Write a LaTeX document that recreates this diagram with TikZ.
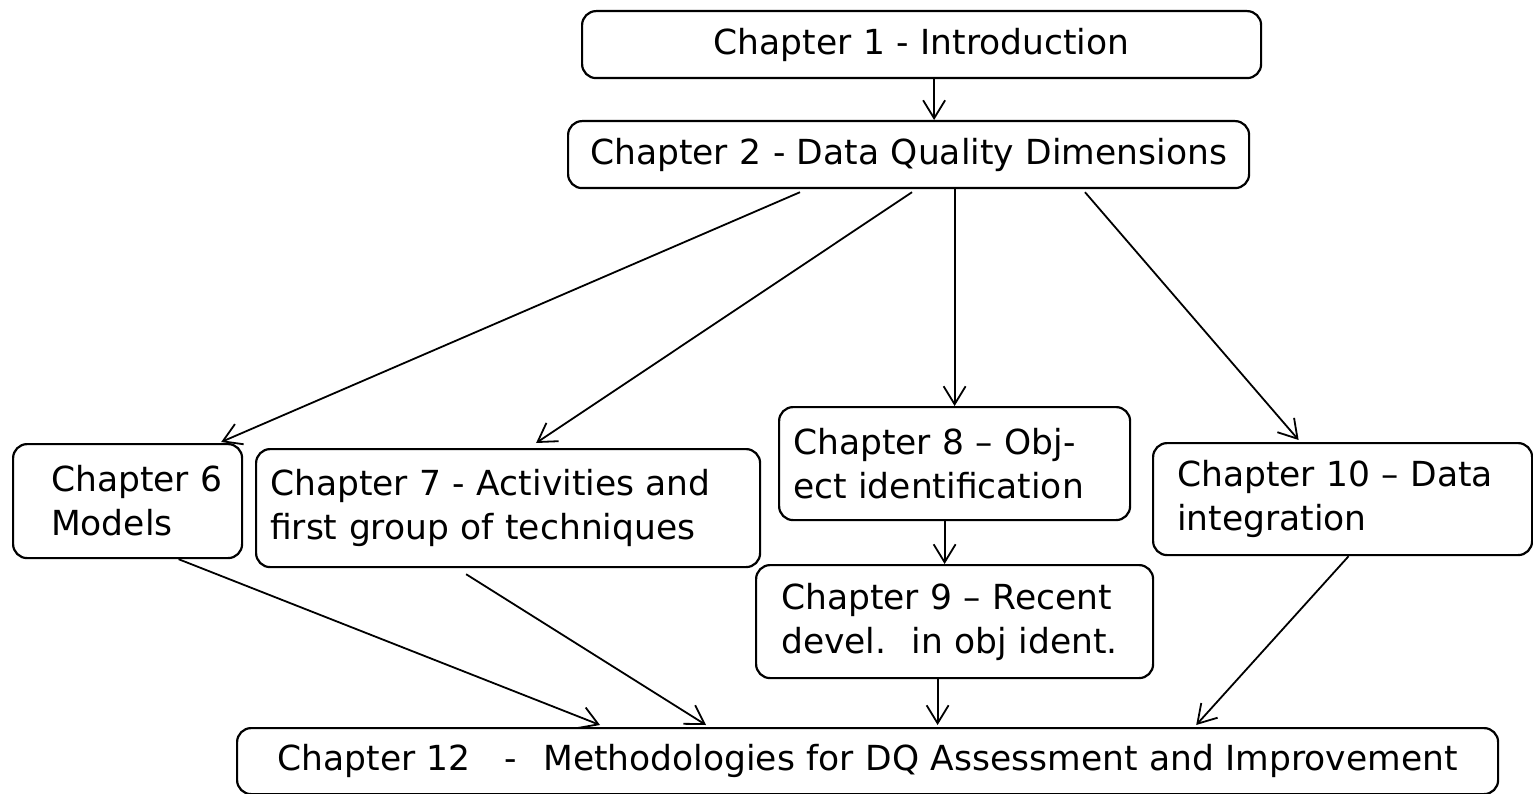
\documentclass[tikz,border=0pt]{standalone}
\usepackage{fontspec}
\setmainfont{DejaVu Sans}
\usetikzlibrary{arrows.meta}
\tikzset{
  chapbox/.style={draw, rounded corners=14pt, line width=2.2pt, anchor=north west, align=left,
    inner ysep=0pt, font=\fontsize{34.5pt}{44pt}\selectfont},
  >={Straight Barb[length=18pt,width=22pt]}
}
\begin{document}
\begin{tikzpicture}[x=1pt,y=-1pt,line width=1.8pt]
\useasboundingbox (0,0) rectangle (1533,794);
%
\node[chapbox, align=center, inner xsep=10pt, text width=659pt, minimum height=67pt] (ch1) at (581,10) {Chapter 1 - Introduction};
\node[chapbox, align=center, inner xsep=10pt, text width=661pt, minimum height=67pt] (ch2) at (567,120) {Chapter 2 - Data Quality Dimensions};
%
\node[chapbox, inner xsep=10pt, text width=209pt, minimum height=114pt] (ch6) at (12,443) {\hspace*{28pt}Chapter 6\\\hspace*{28pt}Models};
\node[chapbox, inner xsep=14pt, text width=476pt, minimum height=118pt] (ch7) at (255,448) {Chapter 7 - Activities and\\first group of techniques};
\node[chapbox, inner xsep=14pt, text width=323pt, minimum height=113pt] (ch8) at (778,406) {Chapter 8 -- Obj-\\ect identification};
\node[chapbox, inner xsep=25pt, text width=347pt, minimum height=113pt] (ch9) at (755,564) {Chapter 9 -- Recent\\devel.\hspace{8pt} in obj ident.};
\node[chapbox, inner xsep=24pt, text width=331pt, minimum height=112pt] (ch10) at (1152,442) {Chapter 10 -- Data\\integration};
%
\node[chapbox, align=center, inner xsep=10pt, text width=1241pt, minimum height=66pt] (ch12) at (236,727) {Chapter 12\hspace{34pt}-\hspace{26pt}Methodologies for DQ Assessment and Improvement};
%
\draw[->] ([xshift=12.5pt]ch1.south) -- ([xshift=12.5pt]ch1.south |- ch2.north);
\draw[->] ([xshift=233pt,yshift=-3pt]ch2.south west) -- ([xshift=-22pt,yshift=1pt]ch6.north east);
\draw[->] ([xshift=345pt,yshift=-3pt]ch2.south west) -- ([xshift=28pt,yshift=5pt]ch7.north);
\draw[->] (ch8.north |- ch2.south) -- (ch8.north);
\draw[->] ([xshift=518pt,yshift=-3pt]ch2.south west) -- ([xshift=-44pt,yshift=2pt]ch10.north);
\draw[->] ([xshift=-10pt]ch8.south) -- ([xshift=-10pt]ch8.south |- ch9.north);
%
\draw[->] ([xshift=51pt]ch6.south) -- ([xshift=364pt,yshift=2pt]ch12.north west);
\draw[->] ([xshift=-42pt,yshift=-6pt]ch7.south) -- ([xshift=470pt,yshift=2pt]ch12.north west);
\draw[->] ([xshift=-17pt]ch9.south) -- ([xshift=-17pt,yshift=2pt]ch9.south |- ch12.north);
\draw[->] ([xshift=6pt]ch10.south) -- ([xshift=-303pt,yshift=2pt]ch12.north east);
\end{tikzpicture}
\end{document}
